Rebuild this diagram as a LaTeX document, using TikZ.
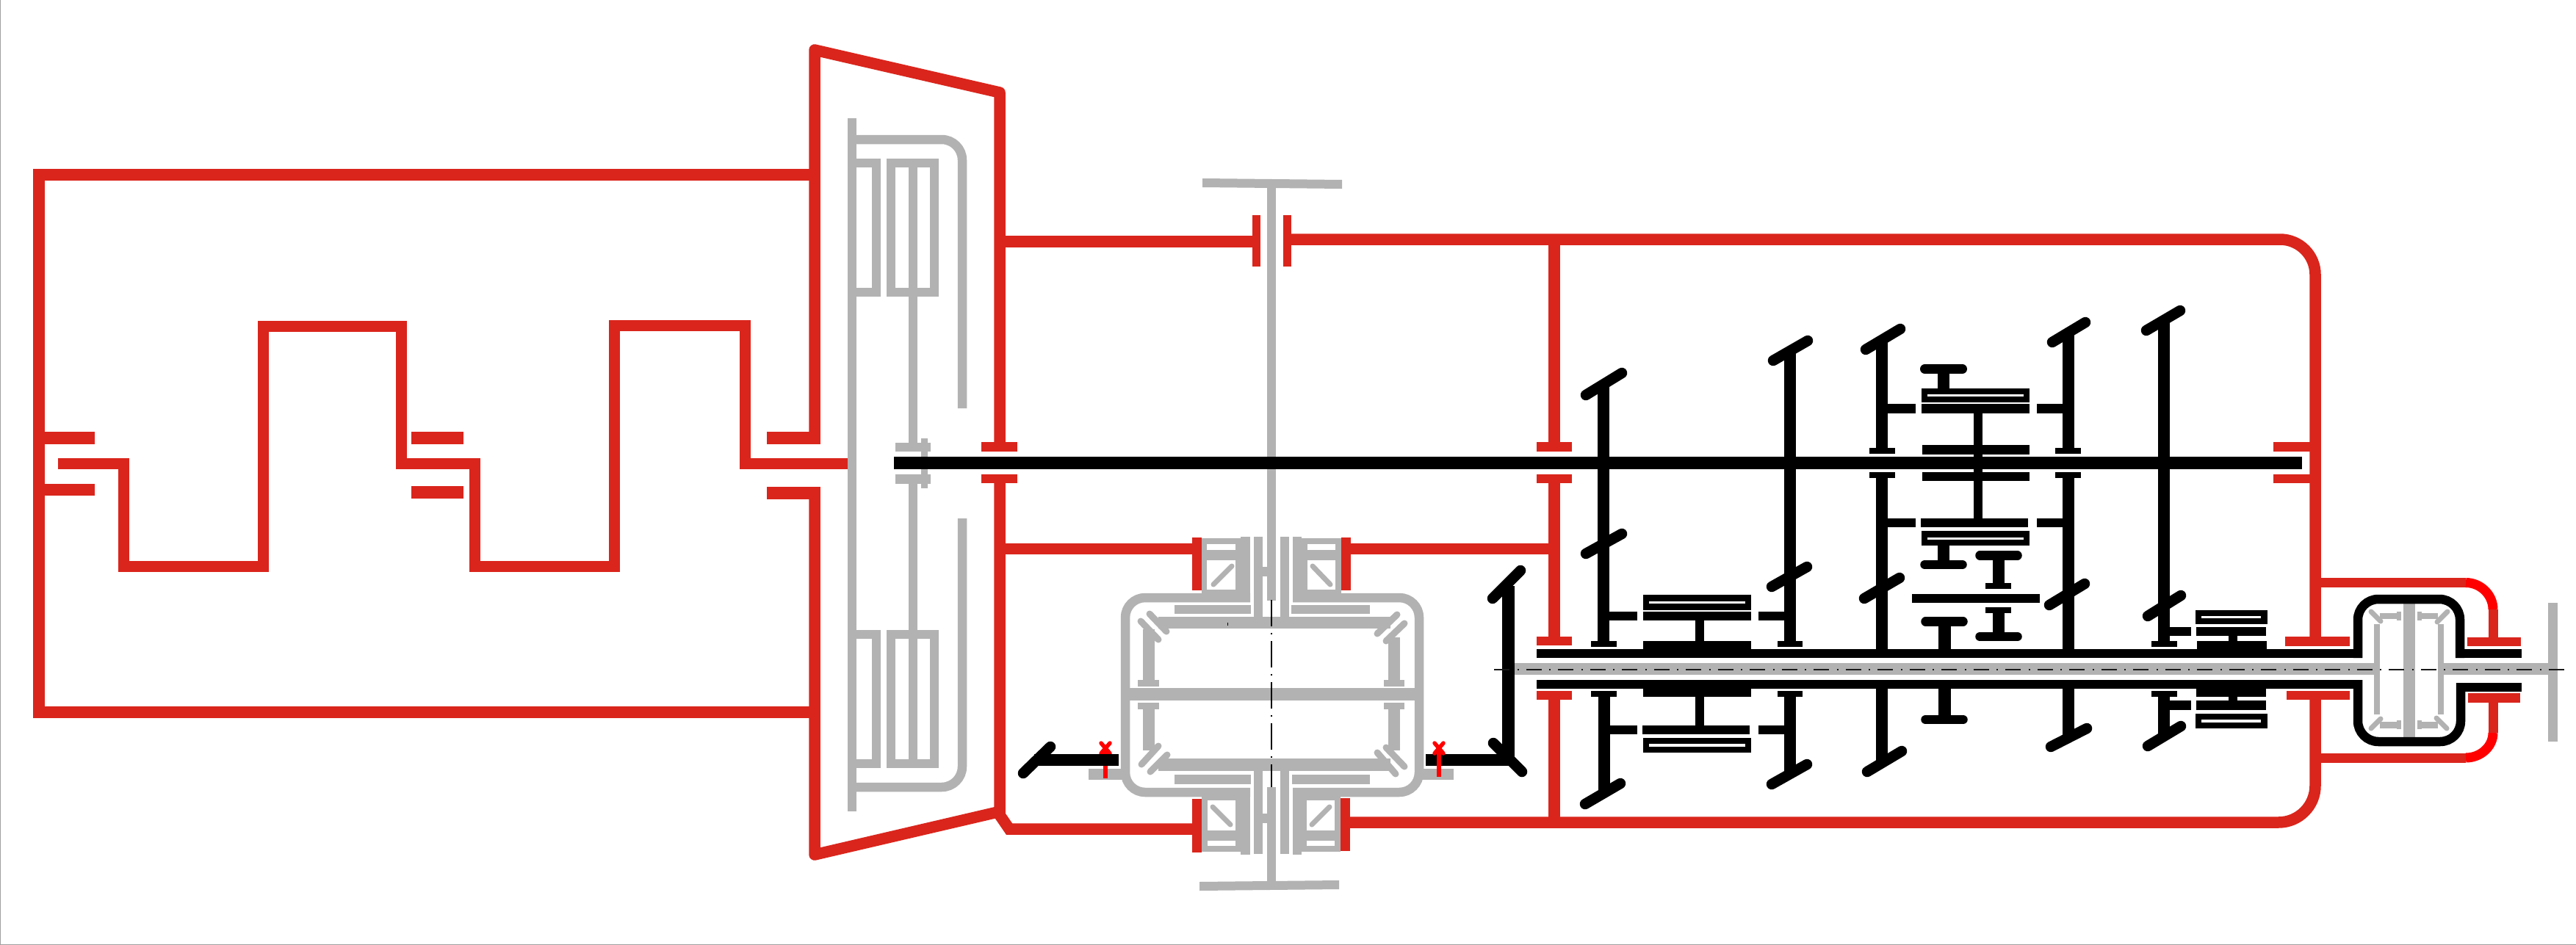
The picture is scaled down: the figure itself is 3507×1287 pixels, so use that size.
\documentclass[tikz,border=0pt]{standalone}
\definecolor{rd}{HTML}{DA251C}
\definecolor{brd}{HTML}{FF0000}
\definecolor{gy}{HTML}{B2B2B2}
\definecolor{bk}{HTML}{000000}
\definecolor{edgeline}{HTML}{A0A0A0}
\newcommand\bx[5]{\fill[#1] (#2,#3) rectangle (#4,#5);}
\newcommand\gearcap[4]{\draw[bk,line width=14.5pt,line cap=round] (#1,#2) -- (#3,#4);}
\newcommand\tinycap[4]{\draw[gy,line width=9pt,line cap=round] (#1,#2) -- (#3,#4);}
\newcommand\minicap[4]{\draw[gy,line width=7pt,line cap=round] (#1,#2) -- (#3,#4);}
\tikzset{
  redline/.style={draw=rd,line width=15.5pt,miter limit=10},
  redthin/.style={draw=rd,line width=13pt},
  grayline/.style={draw=gy,line width=12.5pt},
  blackline/.style={draw=bk,line width=12.5pt}
}
\begin{document}
\begin{tikzpicture}[x=1pt,y=-1pt]
\useasboundingbox (0,0) rectangle (3507,1287);
\fill[white] (0,0) rectangle (3507,1287);
\draw[edgeline,line width=1.5pt] (0.7,0) -- (0.7,1286.3) -- (3507,1286.3);

% ---- grey: torque converter
\bx{gy}{1153.5}{161}{1166}{1105}
\draw[grayline,rounded corners=28pt] (1160,190) -- (1310,190) -- (1310,556);
\draw[grayline,rounded corners=28pt] (1310,706) -- (1310,1072) -- (1160,1072);
\draw[grayline] (1160,222) -- (1193,222) -- (1193,398) -- (1160,398);
\draw[grayline] (1160,864) -- (1193,864) -- (1193,1040) -- (1160,1040);
\draw[grayline] (1213,222) rectangle (1272,398);
\draw[grayline] (1213,864) rectangle (1272,1040);
\bx{gy}{1237}{222}{1249}{603}
\bx{gy}{1237}{659}{1249}{1040}
\bx{gy}{1219}{603}{1267}{615}
\bx{gy}{1219}{646}{1267}{659}
\bx{gy}{1254}{597}{1263}{665}

% ---- grey: differential case
\draw[grayline,rounded corners=27pt] (1702,814) -- (1532,814) -- (1532,1079) -- (1702,1079);
\draw[grayline,rounded corners=27pt] (1760,814) -- (1932,814) -- (1932,1079) -- (1760,1079);
\bx{gy}{1526}{937}{1938}{954}
\bx{gy}{1577}{840}{1893}{856}
\bx{gy}{1577}{1033}{1893}{1050}
\bx{gy}{1599}{824}{1703}{836}
\bx{gy}{1758}{824}{1865}{836}
\bx{gy}{1599}{1055}{1703}{1068}
\bx{gy}{1759}{1055}{1865}{1068}
% side gears
\bx{gy}{1556}{857}{1572}{926}
\bx{gy}{1549}{926}{1578}{935}
\bx{gy}{1556}{966}{1572}{1022}
\bx{gy}{1549}{957}{1578}{966}
\bx{gy}{1890}{868}{1906}{926}
\bx{gy}{1884}{926}{1912}{935}
\bx{gy}{1890}{966}{1906}{1022}
\bx{gy}{1884}{957}{1912}{966}
\tinycap{1565}{836}{1588}{860}
\tinycap{1553}{846}{1577}{871}
\tinycap{1875}{863}{1902}{837}
\tinycap{1887}{873}{1912}{849}
\tinycap{1554}{1041}{1577}{1016}
\tinycap{1566}{1051}{1589}{1028}
\tinycap{1875}{1025}{1900}{1054}
\tinycap{1887}{1018}{1912}{1044}
% tabs
\bx{gy}{1482}{1047}{1530}{1062}
\bx{gy}{1934}{1047}{1979}{1062}
% bearing blocks
\bx{gy}{1636}{733}{1702}{820}
\bx{gy}{1689}{731}{1702}{820}
\bx{gy}{1760}{733}{1826}{820}
\bx{gy}{1760}{731}{1772}{820}
\bx{white}{1643}{741}{1682}{749}
\bx{white}{1643}{763}{1682}{803}
\bx{white}{1780}{741}{1818}{749}
\bx{white}{1780}{763}{1818}{803}
\minicap{1652}{796}{1677}{771}
\minicap{1787}{771}{1811}{796}
\bx{gy}{1636}{1073}{1702}{1160}
\bx{gy}{1689}{1073}{1702}{1164}
\bx{gy}{1760}{1073}{1825}{1160}
\bx{gy}{1760}{1073}{1772}{1164}
\bx{white}{1644}{1090}{1682}{1131}
\bx{white}{1644}{1145}{1682}{1152}
\bx{white}{1779}{1090}{1817}{1131}
\bx{white}{1779}{1145}{1817}{1152}
\minicap{1651}{1099}{1675}{1123}
\minicap{1810}{1099}{1786}{1123}
% carrier stems and fingers
\bx{gy}{1707}{731}{1719}{840}
\bx{gy}{1743}{731}{1755}{840}
\bx{gy}{1719}{772}{1725}{785}
\bx{gy}{1725}{248}{1737}{818}
\bx{gy}{1707}{1050}{1719}{1163}
\bx{gy}{1743}{1050}{1755}{1163}
\bx{gy}{1719}{1108}{1725}{1121}
\bx{gy}{1725}{1072}{1737}{1203}
\fill[gy] (1637,243) -- (1827,245) -- (1827,257) -- (1637,255) -- cycle;
\fill[gy] (1633,1201) -- (1823,1199) -- (1823,1211) -- (1633,1213) -- cycle;

% ---- grey: shafts and rear differential
\bx{gy}{2062}{903}{3232}{919}
\bx{gy}{3327}{903}{3470}{919}
\bx{gy}{3232}{850}{3240}{973}
\bx{gy}{3319}{850}{3327}{973}
\bx{gy}{3272}{822}{3288}{1004}
\bx{gy}{3469}{821}{3482}{1010}
\bx{gy}{3240}{835}{3269}{843}
\bx{gy}{3263}{833}{3269}{845}
\bx{gy}{3291}{835}{3319}{843}
\bx{gy}{3291}{833}{3297}{845}
\bx{gy}{3240}{983}{3269}{992}
\bx{gy}{3263}{981}{3269}{993}
\bx{gy}{3291}{983}{3319}{992}
\bx{gy}{3291}{981}{3297}{993}
\minicap{3228}{833}{3241}{846}
\minicap{3332}{833}{3318}{847}
\minicap{3228}{992}{3241}{979}
\minicap{3331}{992}{3317}{978}

% ---- red: engine frame and crank
\draw[redline] (1109,238) -- (53,238) -- (53,970) -- (1109,970);
\bx{rd}{61}{588}{129}{605}
\bx{rd}{61}{659}{129}{675}
\draw[redline,line width=15pt] (79,631) -- (168,631) -- (168,771) -- (358,771) -- (358,444) -- (546,444) -- (546,631) -- (646,631) -- (646,771) -- (836,771) -- (836,443) -- (1014,443) -- (1014,631) -- (1154,631);
\bx{rd}{560}{588}{631}{605}
\bx{rd}{560}{662}{631}{679}
\bx{rd}{1044}{588}{1117}{605}
\bx{rd}{1044}{663}{1117}{680}
% housing
\draw[redline,line join=round] (1109,603) -- (1109,68) -- (1361,126) -- (1361,609);
\draw[redline,line join=round] (1109,665) -- (1109,1164) -- (1358,1106);
\draw[redline] (1361,652) -- (1361,1110) -- (1374,1129) -- (1625,1129);
\bx{rd}{1336}{602}{1385}{615}
\bx{rd}{1336}{646}{1385}{658}
\draw[redline] (1361,329) -- (1708,329);
\draw[redline] (1361,747.5) -- (1625,747.5);
\draw[redline] (1835,747.5) -- (2116,747.5);
\bx{rd}{1705}{293}{1716}{363}
\bx{rd}{1747}{293}{1758}{363}
\bx{rd}{1623}{732}{1636}{804}
\bx{rd}{1826}{732}{1839}{804}
\bx{rd}{1623}{1088}{1636}{1161}
\bx{rd}{1825}{1087}{1838}{1159}
% main case
\draw[redline,rounded corners=48pt] (1755,326) -- (3152,326) -- (3152,870);
\draw[redline,rounded corners=50pt] (3152,950) -- (3152,1120) -- (1835,1120);
\draw[redline] (2116,326) -- (2116,604);
\draw[redline] (2116,650) -- (2116,870);
\draw[redline] (2116,950) -- (2116,1120);
\bx{rd}{2092}{602}{2140}{615}
\bx{rd}{2092}{646}{2140}{658}
\bx{rd}{2092}{867}{2140}{879}
\bx{rd}{2092}{941}{2140}{953}
\bx{rd}{3095}{602}{3145}{615}
\bx{rd}{3095}{646}{3145}{658}
\bx{rd}{3111}{867}{3199}{880}
\bx{rd}{3113}{941}{3199}{953}
% rear housing
\draw[redthin] (3152,793.5) -- (3357,793.5);
\draw[brd,line width=13pt] (3357,793.5) .. controls (3377,793.5) and (3394,810) .. (3394,830);
\draw[redthin] (3394,830) -- (3394,870);
\bx{rd}{3359}{868}{3432}{880}
\draw[redthin] (3152,1032) -- (3357,1032);
\draw[brd,line width=13pt] (3357,1032) .. controls (3377,1032) and (3394,1017) .. (3394,998);
\draw[redthin] (3394,998) -- (3394,950);
\bx{rd}{3360}{944}{3431}{957}

% left pin (behind the axle)
\draw[brd,line width=6pt] (1505,1020) -- (1505,1060);
\draw[brd,line width=5.5pt,line cap=round] (1499,1012) -- (1511,1026);
\draw[brd,line width=5.5pt,line cap=round] (1511,1012) -- (1499,1026);

% ---- black: transfer gears to the differential
\bx{bk}{1408}{1027}{1523}{1043}
\gearcap{1393}{1053}{1430}{1017}
\bx{bk}{1941}{1027}{2062}{1043}
\bx{bk}{2045}{798}{2062}{1034}
\gearcap{2032}{815}{2070}{777}
\gearcap{2033}{1012}{2072}{1051}

% ---- black: main shafts
\bx{bk}{1217}{622}{3134}{639}
\bx{bk}{2092}{884}{3216}{896}
\bx{bk}{2092}{926}{3216}{938}
\draw[blackline] (3210,896) [rounded corners=28pt] -- (3210,816) -- (3349,816) -- (3349,896);
\bx{bk}{3343}{884}{3433}{896}
\draw[blackline] (3210,926) [rounded corners=28pt] -- (3210,1010) -- (3350,1010) -- (3350,930);
\bx{bk}{3344}{930}{3433}{942}

% ---- black: gear 1
\bx{bk}{2175}{525}{2191}{873}
\bx{bk}{2166}{873}{2201}{881}
\gearcap{2159}{538}{2208}{508}
\gearcap{2159}{754}{2208}{727}
\bx{bk}{2191}{833}{2229}{845}
\bx{bk}{2166}{941}{2201}{949}
\bx{bk}{2176}{949}{2192}{1080}
\gearcap{2158}{1095}{2206}{1067}
\bx{bk}{2192}{988}{2229}{1000}
% synchroniser A
\bx{bk}{2237}{810}{2384}{831}
\bx{white}{2245}{819}{2376}{822}
\bx{bk}{2237}{833}{2384}{845}
\bx{bk}{2308}{845}{2320}{873}
\bx{bk}{2237}{873}{2384}{884}
\bx{bk}{2237}{937}{2384}{949}
\bx{bk}{2308}{949}{2320}{988}
\bx{bk}{2236}{988}{2382}{1000}
\bx{bk}{2237}{1005}{2384}{1025}
\bx{white}{2245}{1013}{2376}{1017}
% gear 2
\bx{bk}{2429}{478}{2445}{873}
\bx{bk}{2420}{873}{2454}{881}
\gearcap{2414}{491}{2461}{464}
\gearcap{2412}{799}{2460}{772}
\bx{bk}{2394}{833}{2429}{845}
\bx{bk}{2420}{941}{2454}{949}
\bx{bk}{2429}{949}{2445}{1055}
\bx{bk}{2394}{988}{2429}{1000}
\gearcap{2412}{1068}{2460}{1041}
% gear 3
\bx{bk}{2554}{462}{2570}{610}
\bx{bk}{2545}{610}{2580}{618}
\gearcap{2540}{476}{2587}{448}
\bx{bk}{2570}{550}{2608}{563}
\bx{bk}{2545}{643}{2580}{651}
\bx{bk}{2554}{651}{2570}{884}
\bx{bk}{2570}{706}{2608}{718}
\gearcap{2538}{815}{2586}{787}
\bx{bk}{2554}{937}{2570}{1040}
\gearcap{2542}{1051}{2589}{1023}
% middle assembly
\draw[bk,line width=13pt,line cap=round] (2620.5,502.5) -- (2671.5,502.5);
\bx{bk}{2638}{509}{2654}{529}
\bx{bk}{2616}{529}{2763}{548}
\bx{white}{2624}{537}{2755}{540}
\bx{bk}{2616}{550}{2763}{563}
\bx{bk}{2687}{563}{2699}{706}
\bx{bk}{2617}{606}{2763}{619}
\bx{bk}{2617}{643}{2763}{655}
\bx{bk}{2615}{706}{2761}{718}
\bx{bk}{2616}{723}{2763}{743}
\bx{white}{2624}{732}{2755}{734.5}
\bx{bk}{2638}{743}{2654}{765}
\draw[bk,line width=12.5pt,line cap=round] (2620.5,769) -- (2671.5,769);
\draw[bk,line width=12.5pt,line cap=round] (2695.5,756.5) -- (2746.5,756.5);
\bx{bk}{2713}{760}{2729}{794}
\bx{bk}{2703}{794}{2738}{802}
\bx{bk}{2603}{809}{2777}{821}
\bx{bk}{2703}{827}{2738}{835}
\bx{bk}{2713}{835}{2729}{864}
\draw[bk,line width=12.5pt,line cap=round] (2695.5,867) -- (2746.5,867);
\draw[bk,line width=12.5pt,line cap=round] (2621.5,846.5) -- (2672.5,846.5);
\bx{bk}{2639}{850}{2656}{884}
\bx{bk}{2639}{938}{2656}{978}
\draw[bk,line width=12.5pt,line cap=round] (2621.5,980) -- (2672.5,980);
% gear 4
\bx{bk}{2808}{452}{2824}{610}
\bx{bk}{2798}{610}{2833}{618}
\gearcap{2794}{466}{2839}{439}
\bx{bk}{2773}{550}{2808}{563}
\bx{bk}{2798}{643}{2833}{651}
\bx{bk}{2808}{651}{2824}{884}
\bx{bk}{2773}{706}{2808}{718}
\gearcap{2790}{824}{2838}{795}
\bx{bk}{2808}{938}{2824}{1006}
\gearcap{2792}{1017}{2841}{992}
% gear 5
\bx{bk}{2938}{437}{2954}{873}
\bx{bk}{2929}{873}{2964}{881}
\gearcap{2922}{450}{2968}{423}
\gearcap{2924}{839}{2969}{811}
\bx{bk}{2954}{854}{2983}{866}
\bx{bk}{2929}{941}{2964}{949}
\bx{bk}{2938}{949}{2954}{1005}
\bx{bk}{2954}{954}{2983}{967}
\gearcap{2924}{1016}{2969}{989}
% synchroniser 5
\bx{bk}{2989}{831}{3087}{850}
\bx{white}{2997}{839}{3078}{842}
\bx{bk}{2990}{854}{3085}{866}
\bx{bk}{3034}{866}{3046}{873}
\bx{bk}{2991}{873}{3086}{884}
\bx{bk}{2990}{937}{3085}{949}
\bx{bk}{3034}{949}{3046}{954}
\bx{bk}{2990}{954}{3085}{967}
\bx{bk}{2989}{972}{3087}{992}
\bx{white}{2997}{980}{3078}{984}

% right pin (over the axle)
\draw[brd,line width=6pt] (1959,1020) -- (1959,1058);
\draw[brd,line width=5.5pt,line cap=round] (1953,1012) -- (1965,1026);
\draw[brd,line width=5.5pt,line cap=round] (1965,1012) -- (1953,1026);

% ---- centre lines
\draw[black!90,line width=2pt,dash pattern=on 21pt off 10.5pt on 2pt off 10pt] (2034,912) -- (3497,912);
\draw[black,line width=2pt,dash pattern=on 35.5pt off 9pt on 2pt off 9.5pt] (1731,817) -- (1731,1072);
\bx{black}{1670.5}{848}{1672}{852}
\end{tikzpicture}
\end{document}
